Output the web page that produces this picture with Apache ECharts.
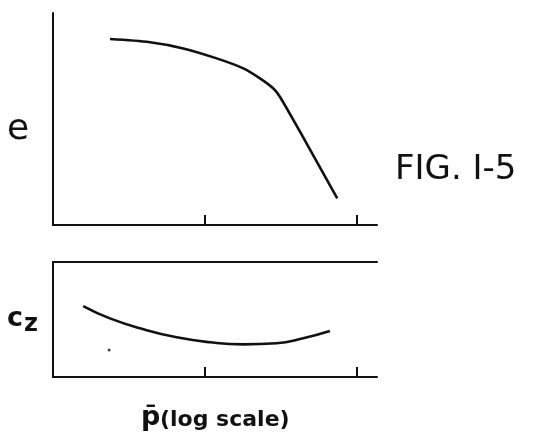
<!DOCTYPE html>
<html>
<head>
<meta charset="utf-8">
<script src="https://cdn.jsdelivr.net/npm/echarts@6/dist/echarts.min.js"></script>
<style>html,body{margin:0;padding:0;background:#fff;}#c{width:533px;height:446px;}</style>
</head>
<body>
<div id="c"></div>
<script>
// p-bar values (log scale) and curve values
const eP = [2.37, 4.35, 7.2, 11.94, 17.87, 23.0, 28.1, 31.1, 42.2, 74.2];
const eVal = [8.77, 8.62, 8.33, 7.86, 7.39, 6.92, 6.45, 6.05, 4.40, 1.26];
const czP = [1.58, 2.37, 3.93, 6.51, 10.8, 17.87, 29.6, 44.3, 66.4];
const czVal = [6.17, 5.10, 4.15, 3.45, 3.02, 2.84, 2.93, 3.37, 4.0];
const dotP = [2.34];
const dotVal = [2.35];
const tickValues = [10, 100];

const chart = echarts.init(document.getElementById('c'), null, {renderer: 'canvas'});
const ink = '#111';
const axisLine = {show: true, lineStyle: {color: ink, width: 2}};
const xBase = (grid) => ({
  type: 'log', logBase: 10, gridIndex: grid, min: 1, max: 135.5,
  axisLine: axisLine,
  axisTick: {show: true, inside: true, length: 10, customValues: tickValues, lineStyle: {color: ink, width: 2}},
  axisLabel: {show: false}, splitLine: {show: false}
});
const yBase = (grid) => ({
  type: 'value', gridIndex: grid, min: 0, max: 10,
  axisLine: axisLine, axisTick: {show: false}, axisLabel: {show: false}, splitLine: {show: false}
});
const pairs = (xs, ys) => xs.map((x, i) => [x, ys[i]]);

chart.setOption({
  backgroundColor: '#fff',
  animation: false,
  grid: [
    {left: 53, top: 13, width: 324, height: 212},
    {left: 53, top: 262, width: 324, height: 115}
  ],
  xAxis: [
    xBase(0),
    xBase(1),
    {type: 'log', gridIndex: 1, position: 'top', min: 1, max: 135.5, axisLine: axisLine,
     axisTick: {show: false}, axisLabel: {show: false}, splitLine: {show: false}}
  ],
  yAxis: [yBase(0), yBase(1)],
  series: [
    {type: 'line', xAxisIndex: 0, yAxisIndex: 0, data: pairs(eP, eVal), smooth: 0.3,
     showSymbol: false, lineStyle: {color: ink, width: 2.6}},
    {type: 'line', xAxisIndex: 1, yAxisIndex: 1, data: pairs(czP, czVal), smooth: 0.5,
     showSymbol: false, lineStyle: {color: ink, width: 2.6}},
    {type: 'scatter', xAxisIndex: 1, yAxisIndex: 1, data: pairs(dotP, dotVal), symbolSize: 3,
     itemStyle: {color: ink}}
  ],
  graphic: [
    {type: 'text', left: 7, top: 112, style: {text: 'e', font: '36px "DejaVu Sans"', fill: ink}},
    {type: 'text', left: 7, top: 305, style: {
      text: '{c|c}{z|z}', fill: ink,
      rich: {c: {fontSize: 27, fontWeight: 'bold', fontFamily: 'DejaVu Sans', verticalAlign: 'bottom', padding: [0, 0, 5, 0]},
             z: {fontSize: 24, fontWeight: 'bold', fontFamily: 'DejaVu Sans', verticalAlign: 'bottom', padding: [0, 0, 0, 1]}}
    }},
    {type: 'text', left: 395, top: 153, style: {text: 'FIG. I-5', font: '34px "DejaVu Sans"', fill: ink}},
    {type: 'text', left: 141, top: 404, style: {text: 'p\u0304', font: 'bold 27px "DejaVu Sans"', fill: ink}},
    {type: 'text', left: 160, top: 409, style: {text: '(log scale)', font: 'bold 22px "DejaVu Sans"', fill: ink}}
  ]
});
</script>
</body>
</html>
